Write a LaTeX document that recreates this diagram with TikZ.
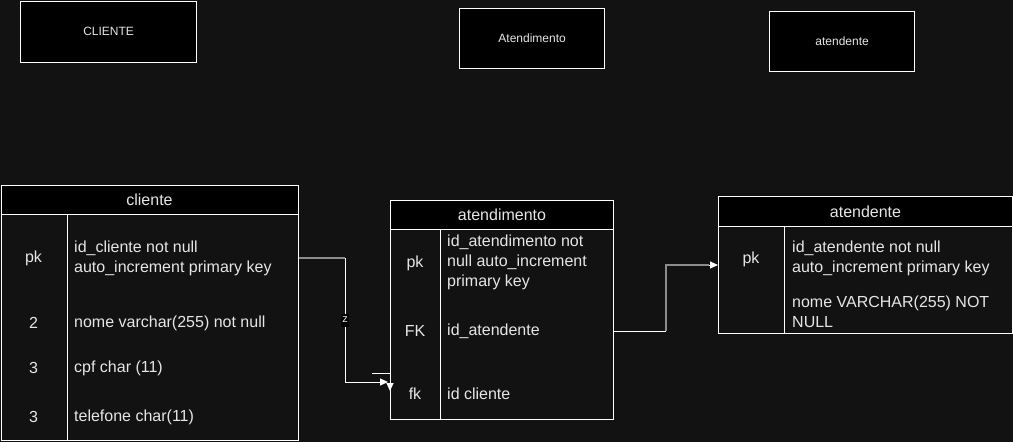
\documentclass[tikz,border=0pt]{standalone}
\usepackage{fontspec}
\setmainfont{Liberation Sans}
\usetikzlibrary{arrows.meta,calc}
\definecolor{bg}{HTML}{121212}
\definecolor{txt}{HTML}{E6E6E6}
\definecolor{conn}{HTML}{8C8C8C}
\begin{document}
\begin{tikzpicture}[x=1pt,y=-1pt,
  box/.style={draw=white,line width=1.2pt,fill=black,text=txt,font=\fontsize{12}{14}\selectfont,inner sep=0pt,anchor=north west},
  hdr/.style={draw=white,line width=1pt,fill=black,text=txt,font=\fontsize{16}{19}\selectfont,inner sep=0pt,anchor=north west},
  body/.style={draw=white,line width=1pt,fill=bg,inner sep=0pt,anchor=north west},
  key/.style={text=txt,font=\fontsize{16}{19}\selectfont,inner sep=0pt},
  fld/.style={text=txt,font=\fontsize{16}{20}\selectfont,inner sep=0pt,anchor=west,align=left},
  sep/.style={draw=white,line width=1pt},
  wire/.style={draw=white,line width=1pt},
  tip/.style={-{Triangle[length=8pt,width=7pt]}}]
\fill[bg] (0,0) rectangle (1013,442);
\useasboundingbox (0,0) rectangle (1013,442);
% top boxes
\node[box,minimum width=176,minimum height=61] (bCli) at (20,0.6) {CLIENTE};
\node[box,minimum width=145,minimum height=60] (bAtm) at (459,8) {Atendimento};
\node[box,minimum width=145,minimum height=60] (bAtd) at (769,11) {atendente};
% cliente table
\node[body,minimum width=297,minimum height=226] (cliB) at (0.5,214) {};
\node[hdr,minimum width=297,minimum height=29] (cliH) at (0.5,185) {cliente};
\draw[sep] (67,214) -- (67,440);
\node[key] (cliK1) at (33.5,258) {pk};
\node[fld] (cliF1) at (74,258) {id\_cliente not null\\auto\_increment primary key};
\node[key] (cliK2) at (33.5,323) {2};
\node[fld] (cliF2) at (74,323) {nome varchar(255) not null};
\node[key] (cliK3) at (33.5,368) {3};
\node[fld] (cliF3) at (74,368) {cpf char (11)};
\node[key] (cliK4) at (33.5,417) {3};
\node[fld] (cliF4) at (74,417) {telefone char(11)};
% atendimento table
\node[body,minimum width=223,minimum height=190] (atmB) at (390,229) {};
\node[hdr,minimum width=223,minimum height=29] (atmH) at (390,200) {atendimento};
\draw[sep] (440,229) -- (440,419);
\node[key] (atmK1) at (415,263) {pk};
\node[fld] (atmF1) at (447,262) {id\_atendimento not\\null auto\_increment\\primary key};
\node[key] (atmK2) at (415,331) {FK};
\node[fld] (atmF2) at (447,331) {id\_atendente};
\node[key] (atmK3) at (415,394) {fk};
\node[fld] (atmF3) at (447,394) {id cliente};
% atendente table
\node[body,minimum width=294,minimum height=107] (atdB) at (718,226) {};
\node[hdr,minimum width=294,minimum height=30] (atdH) at (718,196) {atendente};
\draw[sep] (784,226) -- (784,333);
\node[key] (atdK1) at (751,259) {pk};
\node[fld] (atdF1) at (792,258) {id\_atendente not null\\auto\_increment primary key};
\node[fld] (atdF2) at (792,312) {nome VARCHAR(255) NOT\\NULL};
% connector cliente -> atendimento
\coordinate (c1a) at (cliB.east |- cliK1);
\coordinate (c1b) at (345,258);
\coordinate (c1c) at (345,382);
\coordinate (c1d) at (388,382);
\draw[conn,line width=1.2pt] (c1a) -- (c1b);
\draw[wire,tip] (c1b) -- (c1c) -- (c1d);
\coordinate (s1) at (372,373);
\coordinate (s2) at (390,373);
\draw[wire] (s1) -- (s2);
\coordinate (c1e) at (390,381);
\coordinate (c1f) at (390,391);
\draw[wire,tip] (c1e) -- (c1f);
\node[fill=black,text=txt,font=\fontsize{11}{12}\selectfont,inner xsep=1pt,minimum height=13pt] (zl) at (345,320) {z};
% connector atendimento -> atendente
\coordinate (c2a) at (atmB.east |- atmK2);
\coordinate (c2b) at (666,331);
\coordinate (c2c) at (666,265);
\coordinate (c2d) at (atdB.west |- c2c);
\coordinate (c2e) at (709,265);
\draw[wire] (c2a) -- (c2b);
\draw[conn,line width=1.2pt] (c2b) -- (c2c) -- (c2e);
\draw[wire,tip] (c2e) -- (c2d);
\end{tikzpicture}
\end{document}
